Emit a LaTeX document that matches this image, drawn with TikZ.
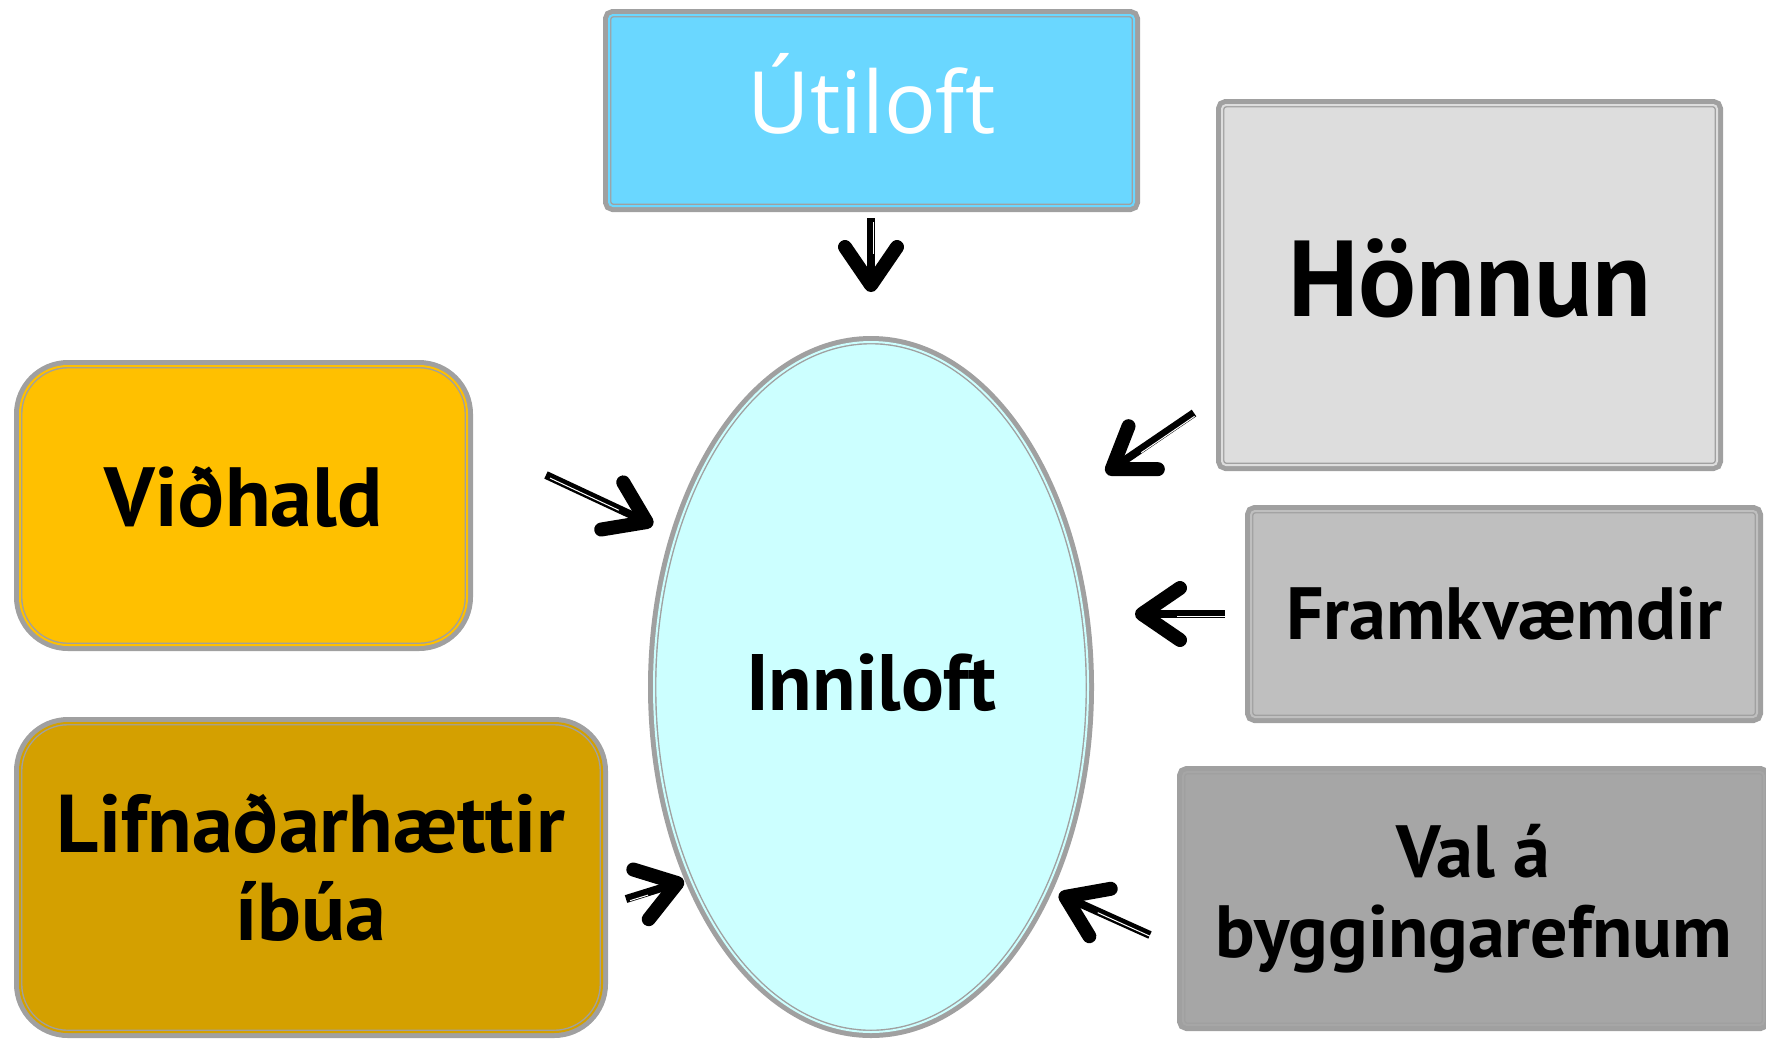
\documentclass[tikz,border=0pt]{standalone}
\usepackage{fontspec}
\setmainfont{PT Sans}
\newfontfamily\utifont{Open Sans}
\usepackage{tikz}
\usetikzlibrary{arrows.meta,shapes.geometric}
\definecolor{airsky}{HTML}{6AD7FF}
\definecolor{airrim}{HTML}{A0A0A0}
\definecolor{airpale}{HTML}{CCFFFF}
\definecolor{airdesign}{HTML}{DDDDDD}
\definecolor{airbuild}{HTML}{BFBFBF}
\definecolor{airmat}{HTML}{A6A6A6}
\definecolor{airupkeep}{HTML}{FFC000}
\definecolor{airlife}{HTML}{D4A000}
\tikzset{
  bx/.style={align=center, inner sep=0pt, font=\bfseries, text=black, draw=airrim, line width=0.7pt,
    double distance=1pt, fill=#1, double=#1, preaction={draw=airrim, line width=6pt}},
  sq/.style={bx=#1, rounded corners=2pt},
  rnd/.style={bx=#1, rounded corners=24pt},
  oval/.style={bx=#1, ellipse},
  arr/.style={line width=4pt, -{Straight Barb[length=19pt, width=26pt, line width=7pt, round]},
    postaction={draw=white, line width=0.5pt, -, shorten >=20pt, shorten <=1pt,
      transform canvas={shift={(1.1pt,-1.1pt)}}}},
}

\begin{document}
\begin{tikzpicture}[x=0.5pt, y=-0.5pt]
  \useasboundingbox (0,0) rectangle (1766,1040);

  % centre
  \node[oval=airpale, minimum width=217pt, minimum height=345pt, text depth=4.5pt, font=\bfseries\fontsize{40}{44}\selectfont] (inni) at (871,687) {Inniloft};

  % boxes round it
  \node[sq=airsky, minimum width=262.5pt, minimum height=95.5pt, text=white, text depth=17pt, font=\utifont\fontsize{43}{48}\selectfont] (uti) at (871.5,110.5) {Útiloft};
  \node[sq=airdesign, minimum width=247.5pt, minimum height=180pt, text depth=7pt, font=\bfseries\fontsize{54}{60}\selectfont] (honn) at (1469.5,285) {Hönnun};
  \node[sq=airbuild, minimum width=253pt, minimum height=103pt, font=\bfseries\fontsize{37}{42}\selectfont] (framk) at (1504,614) {Framkvæmdir};
  \node[sq=airmat, minimum width=290.5pt, minimum height=126.5pt, font=\bfseries\fontsize{37}{40}\selectfont] (val) at (1473.5,898.5) {Val á\\byggingarefnum};
  \node[rnd=airupkeep, minimum width=223.5pt, minimum height=139.5pt, text depth=9pt, font=\bfseries\fontsize{42}{48}\selectfont] (vid) at (243.5,505.5) {Viðhald};
  \node[rnd=airlife, minimum width=291pt, minimum height=154.5pt, text depth=10pt, font=\bfseries\fontsize{41}{44}\selectfont] (lifn) at (311,877.5) {Lifnaðarhættir\\íbúa};

  % arrow ends
  \coordinate (utiT) at (871,218);    \coordinate (utiH) at (871,292);
  \coordinate (honnT) at (1194,413);  \coordinate (honnH) at (1106,473);
  \coordinate (framkT) at (1225,614); \coordinate (framkH) at (1135,614);
  \coordinate (valT) at (1150,935);   \coordinate (valH) at (1059,894);
  \coordinate (lifnT) at (626,899);   \coordinate (lifnH) at (684,881);
  \coordinate (vidT) at (546,475);    \coordinate (vidH) at (653,525);

  \foreach \nm in {uti,honn,framk,val,lifn,vid}
    \draw[arr] (\nm T) -- (\nm H);
\end{tikzpicture}
\end{document}
